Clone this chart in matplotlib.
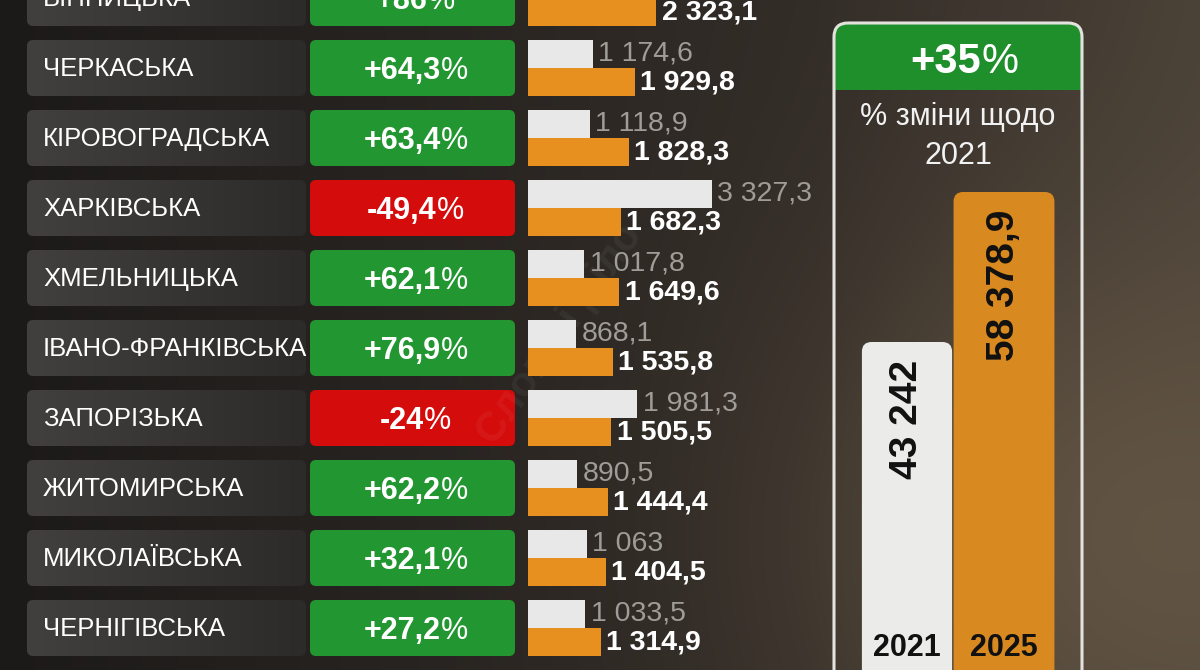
import numpy as np
import matplotlib.pyplot as plt
from matplotlib.colors import LinearSegmentedColormap
from matplotlib.patches import FancyBboxPatch, Rectangle
from matplotlib.transforms import blended_transform_factory

plt.rcParams['font.family'] = ['Liberation Sans', 'DejaVu Sans']

# data
regions = ['ВІННИЦЬКА', 'ЧЕРКАСЬКА', 'КІРОВОГРАДСЬКА', 'ХАРКІВСЬКА', 'ХМЕЛЬНИЦЬКА',
           'ІВАНО-ФРАНКІВСЬКА', 'ЗАПОРІЗЬКА', 'ЖИТОМИРСЬКА', 'МИКОЛАЇВСЬКА', 'ЧЕРНІГІВСЬКА']
pct_change = [86, 64.3, 63.4, -49.4, 62.1, 76.9, -24, 62.2, 32.1, 27.2]
vals_2021 = [1249.0, 1174.6, 1118.9, 3327.3, 1017.8, 868.1, 1981.3, 890.5, 1063, 1033.5]
vals_2025 = [2323.1, 1929.8, 1828.3, 1682.3, 1649.6, 1535.8, 1505.5, 1444.4, 1404.5, 1314.9]
total_years = ['2021', '2025']
total_vals = [43242, 58378.9]
total_pct = 35


def fmt(v):
    s = f"{v:,.1f}"
    if s.endswith('.0'):
        s = s[:-2]
    return s.replace(',', ' ').replace('.', ',')


def fmt_pct(v):
    return f"{v:+g}".replace('.', ',')


W, H = 1200, 670
fig = plt.figure(figsize=(12, 6.7), dpi=100)

# background gradient
bg = fig.add_axes([0, 0, 1, 1])
xx, yy = np.meshgrid(np.linspace(0, 1, W), np.linspace(0, 1, H))
c_left = np.array([0x1c, 0x1a, 0x19]) / 255
c_mid = np.array([0x33, 0x2d, 0x28]) / 255
c_right = np.array([0x4a, 0x41, 0x37]) / 255
t = np.clip(xx / 0.68, 0, 1)[..., None]
img = c_left * (1 - t) + c_mid * t
t2 = np.clip((xx - 0.68) / 0.32, 0, 1)[..., None]
img = img * (1 - t2) + c_right * t2
glow = np.exp(-(((xx - 0.88) / 0.25) ** 2 + ((yy - 0.8) / 0.45) ** 2))[..., None]
img = np.clip(img + glow * np.array([0.11, 0.09, 0.06]), 0, 1)
bg.imshow(img, extent=[0, W, H, 0], aspect='auto')
bg.set_xlim(0, W)
bg.set_ylim(H, 0)
bg.axis('off')

# rows: y in row units, row i centered at pixel -2 + 70 i
pitch = 70.0
y_top = 2 / pitch
y_bot = (H + 2) / pitch
ax = fig.add_axes([0, 0, 1, 1])
ax.set_xlim(0, W)
ax.set_ylim(y_bot, y_top)
ax.axis('off')
ax.patch.set_alpha(0)

grad = np.linspace(0, 1, 100)[None, :]
box_cmap = LinearSegmentedColormap.from_list('box', ['#42403e', '#2d2b2a'])
for i, (name, pc) in enumerate(zip(regions, pct_change)):
    box = FancyBboxPatch((27, i - 0.4), 279, 0.8, boxstyle='round,pad=0,rounding_size=6',
                         mutation_aspect=1 / pitch, fc='none', ec='none')
    ax.add_patch(box)
    im = ax.imshow(grad, extent=[27, 306, i + 0.4, i - 0.4], cmap=box_cmap,
                   aspect='auto', zorder=1)
    im.set_clip_path(box)
    ax.text(43, i + 0.02, name, ha='left', va='center', color='white', fontsize=18.5, zorder=3)

    col = '#229630' if pc > 0 else '#d50c0c'
    pbox = FancyBboxPatch((310, i - 0.4), 205, 0.8, boxstyle='round,pad=0,rounding_size=6',
                          mutation_aspect=1 / pitch, fc=col, ec='none', zorder=2)
    ax.add_patch(pbox)
    tx = ax.text(402, i + 0.04, fmt_pct(pc), ha='center', va='center', color='white',
                 fontsize=22, fontweight='bold', zorder=3)
    ax.annotate('%', xy=(1, 0), xycoords=tx, ha='left', va='bottom', color='white',
                fontsize=22, zorder=3)

# small bars
px_per_unit = 0.0552
bx = fig.add_axes([528 / W, 0, 300 / W, 1])
bx.set_xlim(0, 300 / px_per_unit)
bx.set_ylim(y_bot, y_top)
bx.axis('off')
bx.patch.set_alpha(0)
ypos = np.arange(len(regions))
b1 = bx.barh(ypos - 0.2, vals_2021, height=0.39, color='#e8e8e8', zorder=2)
b2 = bx.barh(ypos + 0.2, vals_2025, height=0.41, color='#e8901f', zorder=2)
for r, v in zip(b1, vals_2021):
    bx.annotate(fmt(v), xy=(r.get_width(), r.get_y() + r.get_height() / 2), xytext=(4, 0),
                textcoords='offset points', ha='left', va='center', color='#a09c98',
                fontsize=20.5)
for r, v in zip(b2, vals_2025):
    bx.annotate(fmt(v), xy=(r.get_width(), r.get_y() + r.get_height() / 2), xytext=(4, 0),
                textcoords='offset points', ha='left', va='center', color='white',
                fontsize=20.5, fontweight='bold')

# watermark
ax.text(560, 4.8, 'Слово і Діло', rotation=55, ha='center', va='center', color='white',
        alpha=0.05, fontsize=30, fontweight='bold', zorder=4)

# right panel frame, pixel coords
px = fig.add_axes([0, 0, 1, 1])
px.set_xlim(0, W)
px.set_ylim(H, 0)
px.axis('off')
px.patch.set_alpha(0)
frame = FancyBboxPatch((834, 23), 248, 720, boxstyle='round,pad=0,rounding_size=14',
                       fc='none', ec='#e4e2df', lw=2.2, zorder=3)
px.add_patch(frame)
head = FancyBboxPatch((835, 24), 246, 120, boxstyle='round,pad=0,rounding_size=13',
                      fc='#1f8f2c', ec='none', zorder=2)
px.add_patch(head)
head.set_clip_path(Rectangle((0, 0), W, 90, transform=px.transData))
ht = px.text(946, 62, fmt_pct(total_pct), ha='center', va='center', color='white',
             fontsize=30, fontweight='bold', zorder=4)
px.annotate('%', xy=(1, 0), xycoords=ht, ha='left', va='bottom', color='white',
            fontsize=30, zorder=4)
px.text(958, 117, '% зміни щодо', ha='center', va='center', color='#f2f2f2', fontsize=22)
px.text(958, 156, '2021', ha='center', va='center', color='#f2f2f2', fontsize=22)

# big bars
scale = 150 / (total_vals[1] - total_vals[0])
zero_px = 342 + total_vals[0] * scale
gx = fig.add_axes([833 / W, 0, 250 / W, 1])
gx.set_xlim((833 - 907) / 97, (1083 - 907) / 97)
gx.set_ylim((zero_px - H) / scale, zero_px / scale)
gx.axis('off')
gx.patch.set_alpha(0)
bars = gx.bar([0, 1], total_vals, width=[0.93, 1.04], color='none')
colors = ['#ebebea', '#d8891f']
for r, c in zip(bars, colors):
    gx.add_patch(FancyBboxPatch((r.get_x(), r.get_y()), r.get_width(), r.get_height(),
                                boxstyle='round,pad=0,rounding_size=0.1',
                                mutation_aspect=97 / scale,
                                fc=c, ec='none', zorder=2))
for r, v, yr in zip(bars, total_vals, total_years):
    xc = r.get_x() + r.get_width() / 2
    gx.annotate(fmt(v), xy=(xc, r.get_height()), xytext=(0, -13), textcoords='offset points',
                ha='center', va='top', rotation=90, color='#111111', fontsize=28,
                fontweight='bold', zorder=3)
    gx.text(xc, 1 - 648 / H, yr, transform=blended_transform_factory(gx.transData, gx.transAxes),
            ha='center', va='center', color='#111111', fontsize=22, fontweight='bold', zorder=3)

fig.savefig('out.png', dpi=100)
